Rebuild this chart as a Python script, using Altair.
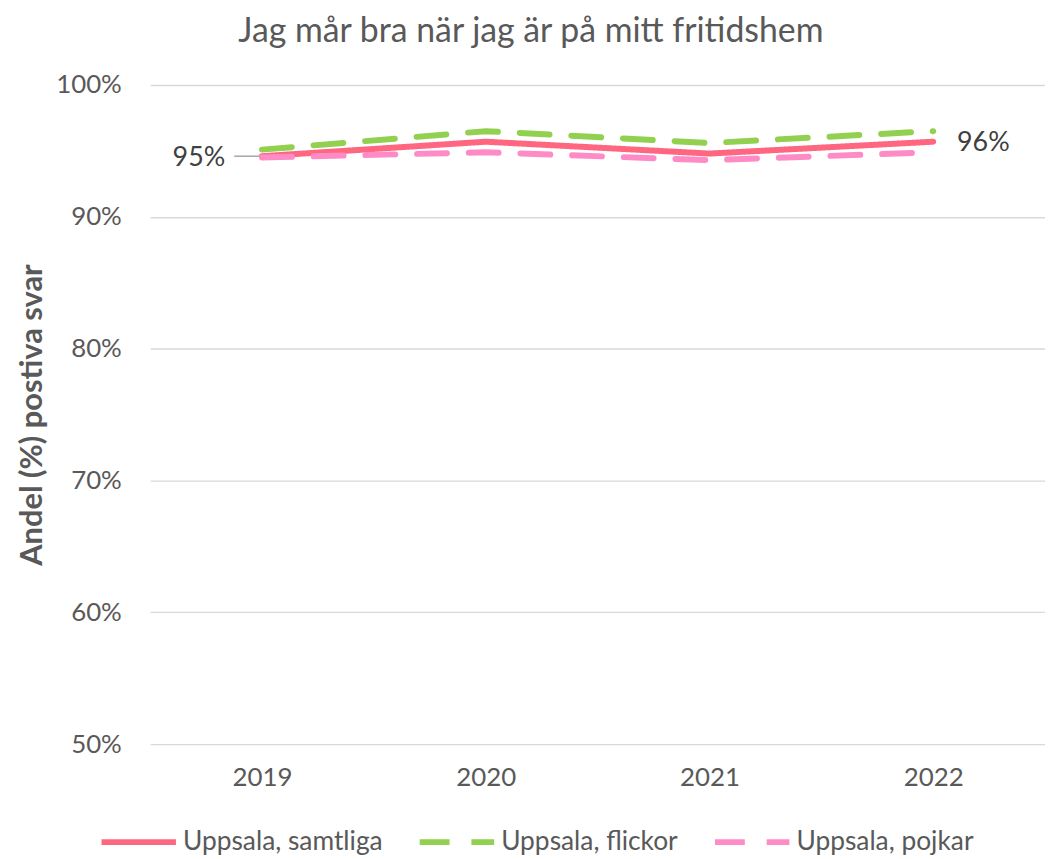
import altair as alt
import pandas as pd

years = ["2019", "2020", "2021", "2022"]
series = ["Uppsala, samtliga", "Uppsala, flickor", "Uppsala, pojkar"]
samtliga = [94.6, 95.7, 94.8, 95.7]
flickor = [95.1, 96.5, 95.6, 96.5]
pojkar = [94.5, 94.9, 94.3, 94.9]
colors = ["#FF6680", "#92D050", "#FF8BC6"]

rows = []
for name, vals in zip(series, [samtliga, flickor, pojkar]):
    for y, v in zip(years, vals):
        rows.append({"year": y, "value": v, "series": name})
df = pd.DataFrame(rows)

lab_first = pd.DataFrame({"year": [years[0]], "value": [samtliga[0]],
                          "label": [f"{round(samtliga[0])}%"]})
lab_last = pd.DataFrame({"year": [years[-1]], "value": [samtliga[-1]],
                         "label": [f"{round(samtliga[-1])}%"]})

FONT = "Lato"
GREY = "#595959"

x = alt.X("year:O", title=None, sort=years,
          scale=alt.Scale(type="point", padding=0.5),
          axis=alt.Axis(labelAngle=0, ticks=False, domain=False, labelPadding=21,
                        labelFontSize=26, labelColor=GREY, labelFont=FONT))
y = alt.Y("value:Q", title="Andel (%) postiva svar",
          scale=alt.Scale(domain=[50, 100]),
          axis=alt.Axis(values=[50, 60, 70, 80, 90, 100], labelExpr="datum.value + '%'",
                        ticks=False, domain=False, labelPadding=29, titlePadding=7,
                        labelFontSize=26, labelColor=GREY, labelFont=FONT,
                        titleFontSize=31, titleColor=GREY, titleFont=FONT,
                        titleFontWeight="bold", gridColor="#D9D9D9", gridWidth=1.3))

lines = alt.Chart(df).mark_line(strokeWidth=6, strokeCap="round").encode(
    x=x, y=y,
    color=alt.Color("series:N", sort=series,
                    scale=alt.Scale(domain=series, range=colors),
                    legend=alt.Legend(title=None, orient="none", direction="horizontal",
                                      legendX=-52, legendY=721,
                                      symbolType="stroke", symbolSize=5600,
                                      symbolStrokeWidth=6, labelFontSize=26.5,
                                      labelColor=GREY, labelFont=FONT, labelLimit=400,
                                      columnPadding=25, labelOffset=4)),
    strokeDash=alt.StrokeDash("series:N", sort=series,
                              scale=alt.Scale(domain=series, range=[[1, 0], [30, 22], [30, 22]]),
                              legend=None),
    order=alt.Order("series:N"),
)

leader = alt.Chart(lab_first).mark_rule(color="#A6A6A6", strokeWidth=1.5,
                                         xOffset=-28, x2Offset=-3).encode(
    x=alt.X("year:O", sort=years), x2=alt.X2("year"), y="value:Q")

t1 = alt.Chart(lab_first).mark_text(align="right", baseline="middle", dx=-37, dy=2,
                                    fontSize=27, font=FONT, color="#404040").encode(
    x=alt.X("year:O", sort=years), y="value:Q", text="label:N")
t2 = alt.Chart(lab_last).mark_text(align="left", baseline="middle", dx=24, dy=1,
                                   fontSize=27, font=FONT, color="#404040").encode(
    x=alt.X("year:O", sort=years), y="value:Q", text="label:N")

chart = alt.layer(lines, leader, t1, t2).properties(
    width=900, height=663,
    title=alt.Title("Jag mår bra när jag är på mitt fritidshem", fontSize=34,
                    font=FONT, color=GREY, fontWeight="normal", offset=23,
                    frame="bounds", anchor="middle"),
    padding={"left": 8, "top": 5, "right": 0, "bottom": 0},
).configure_view(stroke=None)

chart.save("out.html", embed_options={"renderer": "svg", "actions": False})
